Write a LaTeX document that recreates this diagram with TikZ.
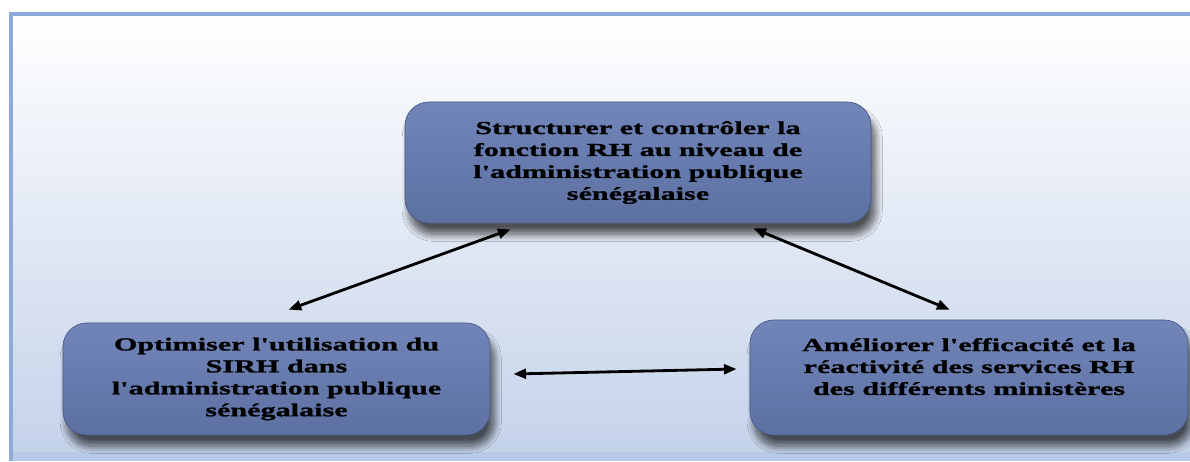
\documentclass[tikz,border=0pt]{standalone}
\usepackage{fontspec}
\usepackage{tikz}
\usetikzlibrary{arrows.meta,shadows.blur}
\newfontfamily\boxfont[FakeStretch=1.65,FakeBold=1.3]{Liberation Serif}
\definecolor{frameblue}{HTML}{8EAADB}
\definecolor{panelblue}{HTML}{C4D2EA}
\definecolor{bandblue}{HTML}{B9CAE8}
\definecolor{boxtop}{HTML}{7185B9}
\definecolor{boxbot}{HTML}{5D70A2}
\definecolor{boxline}{HTML}{4B5A86}
\tikzset{>/.tip={Triangle[length=9pt,width=7pt]},
  goal/.style={rectangle, rounded corners=0.6cm, draw=boxline, line width=0.5pt,
    top color=boxtop, bottom color=boxbot, align=center, text=black,
    font=\boxfont\bfseries\fontsize{13}{15.6}\selectfont,
    blur shadow={shadow xshift=3pt, shadow yshift=-8pt, shadow blur radius=5pt,
      shadow blur steps=12, shadow opacity=65}},
  link/.style={<->, line width=2pt, black}}

\begin{document}
\begin{tikzpicture}[x=0.025cm, y=-0.025cm]
 \useasboundingbox (0,0) rectangle (1190,461);
 % background panel
 \shade[top color=white, bottom color=panelblue] (10,13) rectangle (1190,452);
 \fill[bandblue] (10,452) rectangle (1190,461);
 \draw[frameblue, line width=2.2pt] (11,461) -- (11,14) -- (1190,14);

 \node[goal, minimum width=11.65cm, minimum height=3.025cm] (struct) at (638,162.5)
   {Structurer et contrôler la\\fonction RH au niveau de\\l'administration publique\\sénégalaise};
 \node[goal, minimum width=10.675cm, minimum height=2.8cm] (optim) at (276.5,379)
   {Optimiser l'utilisation du\\SIRH dans\\l'administration publique\\sénégalaise};
 \node[goal, minimum width=10.95cm, minimum height=2.875cm] (amel) at (969,377.5)
   {Améliorer l'efficacité et la\\réactivité des services RH\\des différents ministères\\\mbox{}};

 \path[link] ([shift={(226,-13)}]optim.north west) edge ([shift={(106,6)}]struct.south west);
 \path[link] ([shift={(-118,5)}]struct.south east) edge ([shift={(200,-10)}]amel.north west);
 \path[link] ([shift={(23,-5)}]optim.east) edge ([shift={(-13,-8.5)}]amel.west);
\end{tikzpicture}
\end{document}
